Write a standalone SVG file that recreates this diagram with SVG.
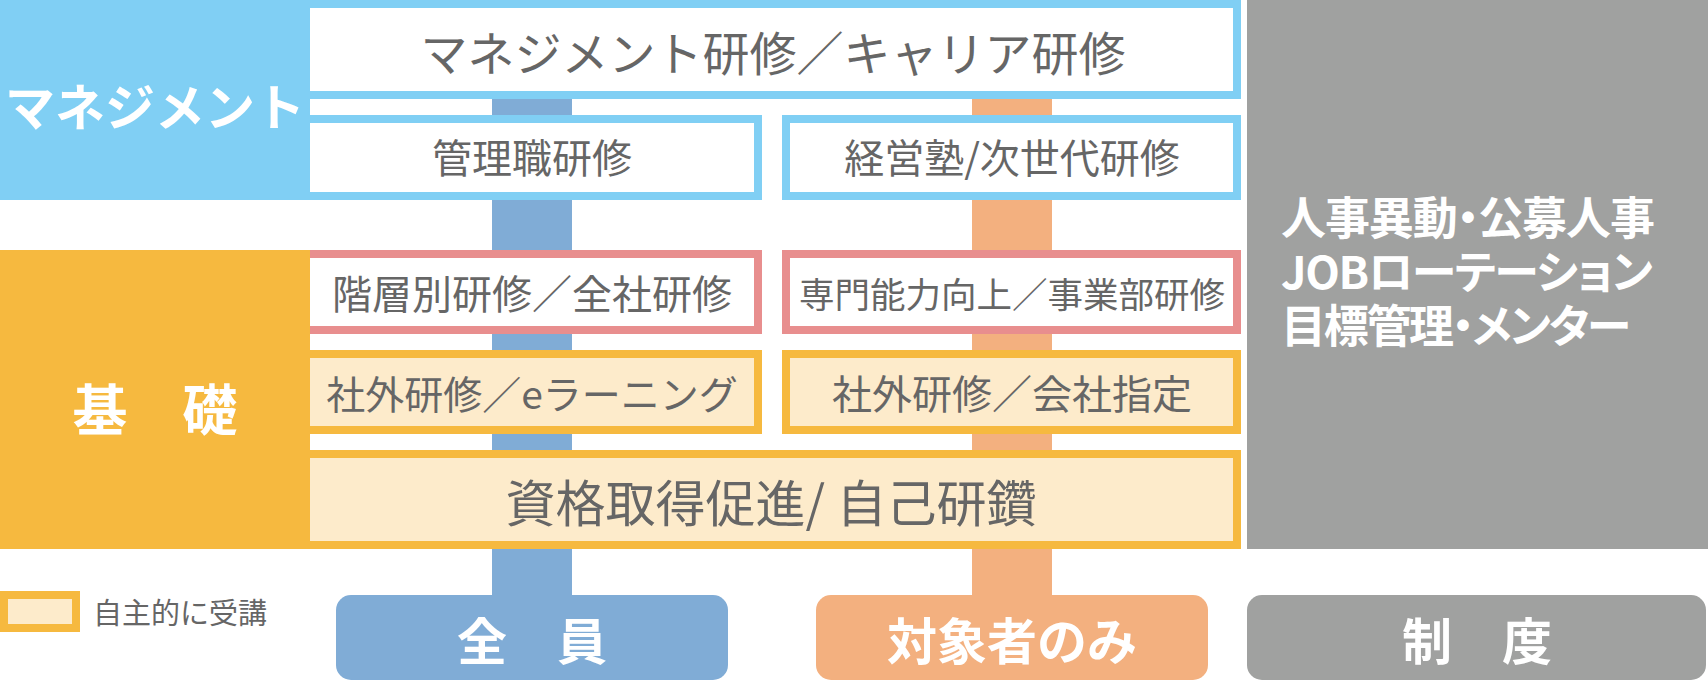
<svg xmlns="http://www.w3.org/2000/svg" width="1708" height="680" viewBox="0 0 1708 680">
<style>
.t{font-family:"Noto Sans CJK JP","Noto Sans CJK SC",sans-serif;fill:#666666;text-anchor:middle;dominant-baseline:central;}
.w{font-family:"Noto Sans CJK JP","Noto Sans CJK SC",sans-serif;fill:#ffffff;font-weight:700;text-anchor:middle;dominant-baseline:central;}
.g{font-family:"Noto Sans CJK JP","Noto Sans CJK SC",sans-serif;fill:#ffffff;font-weight:700;font-size:45px;font-feature-settings:"palt";dominant-baseline:central;}
.bm{fill:#ffffff;stroke:#80cff4;stroke-width:8;}
.br{fill:#ffffff;stroke:#e88e8e;stroke-width:8;}
.bo{fill:#fdebcb;stroke:#f6b93f;stroke-width:8;}
</style>
<rect width="1708" height="680" fill="#ffffff"/>
<g id="connectors">
<rect x="492" y="95" width="80" height="505" fill="#80acd6"/>
<rect x="972" y="95" width="80" height="505" fill="#f3b07f"/>
</g>
<g id="mgmt-career">
<rect class="bm" x="306" y="4" width="931" height="91"/>
<text class="t" x="773" y="50" font-size="47">マネジメント研修／キャリア研修</text>
</g>
<g id="kanrishoku">
<rect class="bm" x="306" y="119" width="452" height="77"/>
<text class="t" x="532" y="156" font-size="40">管理職研修</text>
</g>
<g id="keieijuku">
<rect class="bm" x="786" y="119" width="451" height="77"/>
<text class="t" x="1012" y="156" font-size="40">経営塾/次世代研修</text>
</g>
<g id="kaisobetsu">
<rect class="br" x="306" y="254" width="452" height="76"/>
<text class="t" x="532" y="292" font-size="40">階層別研修／全社研修</text>
</g>
<g id="senmon">
<rect class="br" x="786" y="254" width="451" height="76"/>
<text class="t" x="1012" y="292" font-size="35.5">専門能力向上／事業部研修</text>
</g>
<g id="shagai-e">
<rect class="bo" x="306" y="354" width="452" height="76"/>
<text class="t" x="532" y="392" font-size="39">社外研修／eラーニング</text>
</g>
<g id="shagai-kaisha">
<rect class="bo" x="786" y="354" width="451" height="76"/>
<text class="t" x="1012" y="392" font-size="40">社外研修／会社指定</text>
</g>
<g id="shikaku">
<rect class="bo" x="306" y="454" width="931" height="91"/>
<text class="t" x="771" y="500" font-size="50">資格取得促進/ 自己研鑽</text>
</g>
<g id="mgmt-block">
<rect x="0" y="0" width="310" height="200" fill="#80cff4"/>
<text class="w" x="155" y="104" font-size="50">マネジメント</text>
</g>
<g id="kiso-block">
<rect x="0" y="250" width="310" height="299" fill="#f6b93f"/>
<text class="w" x="155" y="406" font-size="55">基　礎</text>
</g>
<g id="seido-block">
<rect x="1247" y="0" width="461" height="549" fill="#a0a1a0"/>
<text class="g" x="1281" y="215" textLength="374" lengthAdjust="spacing">人事異動・公募人事</text>
<text class="g" x="1281" y="269" textLength="372" lengthAdjust="spacing">JOBローテーション</text>
<text class="g" x="1281" y="323" textLength="350" lengthAdjust="spacing">目標管理・メンター</text>
</g>
<g id="zenin">
<rect x="336" y="595" width="392" height="85" rx="15" fill="#80acd6"/>
<text class="w" x="532" y="638" font-size="50">全　員</text>
</g>
<g id="taishosha">
<rect x="816" y="595" width="392" height="85" rx="15" fill="#f3b07f"/>
<text class="w" x="1012" y="638" font-size="50">対象者のみ</text>
</g>
<g id="seido">
<rect x="1247" y="595" width="459" height="85" rx="15" fill="#a0a1a0"/>
<text class="w" x="1477" y="638" font-size="50">制　度</text>
</g>
<g id="legend">
<rect class="bo" x="4" y="595" width="72" height="33"/>
<text class="t" x="93" y="611" font-size="29" style="text-anchor:start">自主的に受講</text>
</g>
</svg>
